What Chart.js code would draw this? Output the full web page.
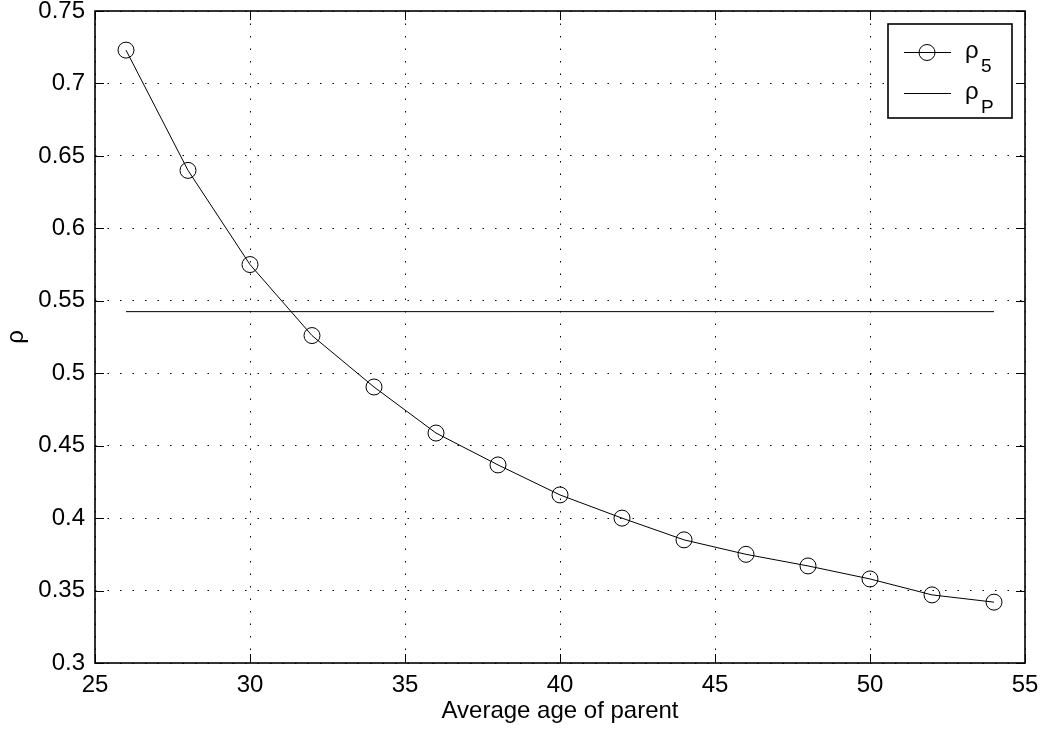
<!DOCTYPE html>
<html>
<head>
<meta charset="utf-8">
<script src="https://cdn.jsdelivr.net/npm/chart.js@4.4.0/dist/chart.umd.min.js"></script>
<style>
  html, body { margin: 0; padding: 0; background: #fff; }
  #wrap { width: 1043px; height: 740px; position: relative; }
</style>
</head>
<body>
<div id="wrap"><canvas id="chart"></canvas></div>
<script>
  // ---------- data ----------
  const ages = [26, 28, 30, 32, 34, 36, 38, 40, 42, 44, 46, 48, 50, 52, 54];
  const rho5 = [0.723, 0.640, 0.575, 0.526, 0.4905, 0.4587, 0.4367, 0.416, 0.400, 0.385, 0.375, 0.367, 0.358, 0.347, 0.342];
  const rhoPAges = [26, 54];
  const rhoPValue = [0.5425, 0.5425];
  const legendNames = [["ρ", "5"], ["ρ", "P"]];

  const FONT = "'Liberation Sans', Arial, sans-serif";

  // ---------- frame, inward ticks, legend ----------
  const matlabFrame = {
    id: "matlabFrame",
    afterDraw(chart) {
      const { ctx, chartArea: a, scales } = chart;
      const xs = scales.x, ys = scales.y;
      const tl = 9;
      ctx.save();
      ctx.strokeStyle = "#000";
      ctx.lineWidth = 1;
      ctx.beginPath();
      xs.ticks.forEach((t) => {
        const px = Math.round(xs.getPixelForValue(t.value)) + 0.5;
        ctx.moveTo(px, a.bottom); ctx.lineTo(px, a.bottom - tl);
        ctx.moveTo(px, a.top); ctx.lineTo(px, a.top + tl);
      });
      ys.ticks.forEach((t) => {
        const py = Math.round(ys.getPixelForValue(t.value)) + 0.5;
        ctx.moveTo(a.left, py); ctx.lineTo(a.left + tl, py);
        ctx.moveTo(a.right, py); ctx.lineTo(a.right - tl, py);
      });
      ctx.stroke();
      ctx.lineWidth = 1.6;
      ctx.strokeRect(a.left, a.top, a.right - a.left, a.bottom - a.top);

      // legend box
      const bx = 888, by = 24, bw = 124, bh = 94;
      ctx.fillStyle = "#fff";
      ctx.fillRect(bx, by, bw, bh);
      ctx.lineWidth = 1.6;
      ctx.strokeRect(bx, by, bw, bh);
      const rows = [52, 93];
      ctx.lineWidth = 1;
      rows.forEach((ry, i) => {
        ctx.beginPath();
        ctx.moveTo(904, ry + 0.5); ctx.lineTo(951, ry + 0.5);
        ctx.stroke();
        if (i === 0) {
          ctx.beginPath();
          ctx.arc(927, ry + 0.5, 8, 0, Math.PI * 2);
          ctx.stroke();
        }
        ctx.fillStyle = "#000";
        ctx.textBaseline = "alphabetic";
        ctx.textAlign = "left";
        ctx.font = "24px " + FONT;
        ctx.fillText(legendNames[i][0], 965, ry + 6);
        ctx.font = "19px " + FONT;
        ctx.fillText(legendNames[i][1], 981, ry + 19.5);
      });
      ctx.restore();
    }
  };

  new Chart(document.getElementById("chart"), {
    type: "line",
    data: {
      datasets: [
        {
          label: "rho5",
          data: ages.map((a, i) => ({ x: a, y: rho5[i] })),
          borderColor: "#000",
          borderWidth: 1,
          backgroundColor: "rgba(0,0,0,0)",
          pointStyle: "circle",
          pointRadius: 8,
          pointBorderWidth: 1,
          pointBorderColor: "#000",
          pointBackgroundColor: "rgba(0,0,0,0)",
          tension: 0
        },
        {
          label: "rhoP",
          data: rhoPAges.map((a, i) => ({ x: a, y: rhoPValue[i] })),
          borderColor: "#000",
          borderWidth: 1,
          pointRadius: 0,
          tension: 0
        }
      ]
    },
    options: {
      responsive: true,
      maintainAspectRatio: false,
      animation: false,
      devicePixelRatio: 1,
      layout: { padding: { left: 0, top: 11, right: 18, bottom: 0 } },
      plugins: {
        legend: { display: false },
        tooltip: { enabled: false }
      },
      scales: {
        x: {
          type: "linear",
          min: 25,
          max: 55,
          afterFit: (s) => { s.height = 77; s.paddingLeft = 0; s.paddingRight = 0; },
          ticks: {
            stepSize: 5,
            color: "#000",
            padding: 8,
            font: { family: FONT, size: 24 }
          },
          grid: {
            color: "#000",
            lineWidth: 1,
            drawTicks: false
          },
          border: { display: false, dash: [1.5, 11] },
          title: {
            display: true,
            text: "Average age of parent",
            color: "#000",
            font: { family: FONT, size: 24 },
            padding: { top: 0, bottom: 14 }
          }
        },
        y: {
          type: "linear",
          min: 0.3,
          max: 0.75,
          afterFit: (s) => { s.width = 95; s.paddingTop = 0; s.paddingBottom = 0; },
          ticks: {
            stepSize: 0.05,
            color: "#000",
            padding: 10,
            font: { family: FONT, size: 24 },
            callback: (v) => String(Math.round(v * 100) / 100)
          },
          grid: {
            color: "#000",
            lineWidth: 1,
            drawTicks: false
          },
          border: { display: false, dash: [1.5, 11] },
          title: {
            display: true,
            text: "ρ",
            color: "#000",
            font: { family: FONT, size: 24 },
            padding: { top: 2, bottom: 0 }
          }
        }
      }
    },
    plugins: [matlabFrame]
  });
</script>
</body>
</html>
